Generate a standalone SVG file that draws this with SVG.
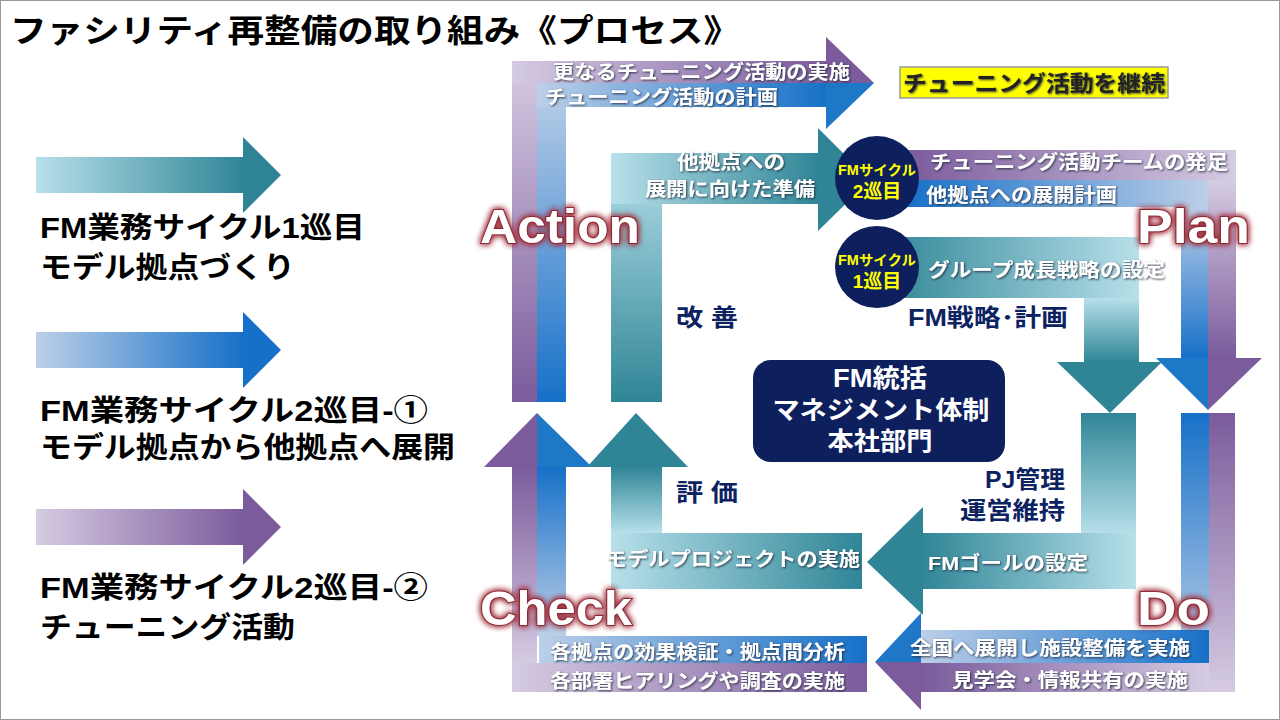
<svg xmlns="http://www.w3.org/2000/svg" width="1280" height="720" viewBox="0 0 1280 720">
<defs>
<linearGradient id="tR" x1="0" y1="0" x2="1" y2="0"><stop offset="0" stop-color="#b7e0ea"/><stop offset="1" stop-color="#2f8596"/></linearGradient>
<linearGradient id="tL" x1="1" y1="0" x2="0" y2="0"><stop offset="0" stop-color="#b7e0ea"/><stop offset="1" stop-color="#2f8596"/></linearGradient>
<linearGradient id="tD" x1="0" y1="0" x2="0" y2="1"><stop offset="0" stop-color="#b7e0ea"/><stop offset="1" stop-color="#2f8596"/></linearGradient>
<linearGradient id="tU" x1="0" y1="1" x2="0" y2="0"><stop offset="0" stop-color="#b7e0ea"/><stop offset="1" stop-color="#2f8596"/></linearGradient>
<linearGradient id="bR" x1="0" y1="0" x2="1" y2="0"><stop offset="0" stop-color="#bccfe8"/><stop offset="1" stop-color="#1670c8"/></linearGradient>
<linearGradient id="bL" x1="1" y1="0" x2="0" y2="0"><stop offset="0" stop-color="#bccfe8"/><stop offset="1" stop-color="#1670c8"/></linearGradient>
<linearGradient id="bD" x1="0" y1="0" x2="0" y2="1"><stop offset="0" stop-color="#bccfe8"/><stop offset="1" stop-color="#1670c8"/></linearGradient>
<linearGradient id="bU" x1="0" y1="1" x2="0" y2="0"><stop offset="0" stop-color="#bccfe8"/><stop offset="1" stop-color="#1670c8"/></linearGradient>
<linearGradient id="pR" x1="0" y1="0" x2="1" y2="0"><stop offset="0" stop-color="#d5cbe2"/><stop offset="1" stop-color="#7b5b9c"/></linearGradient>
<linearGradient id="pL" x1="1" y1="0" x2="0" y2="0"><stop offset="0" stop-color="#d5cbe2"/><stop offset="1" stop-color="#7b5b9c"/></linearGradient>
<linearGradient id="pD" x1="0" y1="0" x2="0" y2="1"><stop offset="0" stop-color="#d5cbe2"/><stop offset="1" stop-color="#7b5b9c"/></linearGradient>
<linearGradient id="pU" x1="0" y1="1" x2="0" y2="0"><stop offset="0" stop-color="#d5cbe2"/><stop offset="1" stop-color="#7b5b9c"/></linearGradient>
<filter id="sh" x="-5%" y="-20%" width="110%" height="140%"><feDropShadow dx="1" dy="1" stdDeviation="0.8" flood-color="#1a2a3a" flood-opacity="0.9"/></filter>
<filter id="glow" x="-10%" y="-20%" width="120%" height="140%"><feGaussianBlur in="SourceAlpha" stdDeviation="3" result="b"/><feFlood flood-color="#a0303c"/><feComposite in2="b" operator="in" result="g"/><feMerge><feMergeNode in="g"/><feMergeNode in="g"/><feMergeNode in="SourceGraphic"/></feMerge></filter>
</defs>
<style>
text{font-family:"Liberation Sans","Noto Sans CJK JP",sans-serif;font-weight:bold}
.w{fill:#fff;font-size:19px;filter:url(#sh)}
.n{fill:#0d2260;font-size:24px}
.big{fill:#fff;font-size:48px;stroke:#8b2a36;stroke-width:2;paint-order:stroke;filter:url(#glow)}
.lg{fill:#000;font-size:29px}
.cy{fill:#ffff00;text-anchor:middle}
.h{fill:#fff;font-size:25px;text-anchor:middle}
</style>
<rect x="0.5" y="0.5" width="1279" height="719" fill="#fff" stroke="#999"/>
<text x="10" y="42" style="font-size:32px;fill:#000" textLength="730" lengthAdjust="spacingAndGlyphs">ファシリティ再整備の取り組み《プロセス》</text>

<g id="legend">
<rect x="36" y="157" width="208" height="36" fill="url(#tR)"/><polygon points="243,137 281,175 243,213" fill="#2f8596"/>
<rect x="36" y="332" width="208" height="36" fill="url(#bR)"/><polygon points="243,312 281,350 243,388" fill="#1670c8"/>
<rect x="36" y="509" width="208" height="36" fill="url(#pR)"/><polygon points="243,489 281,527 243,565" fill="#7b5b9c"/>
<text class="lg" x="40" y="238" textLength="325" lengthAdjust="spacingAndGlyphs">FM業務サイクル1巡目</text>
<text class="lg" x="40" y="278" textLength="255" lengthAdjust="spacingAndGlyphs">モデル拠点づくり</text>
<text class="lg" x="40" y="421" textLength="388" lengthAdjust="spacingAndGlyphs">FM業務サイクル2巡目-①</text>
<text class="lg" x="40" y="458" textLength="415" lengthAdjust="spacingAndGlyphs">モデル拠点から他拠点へ展開</text>
<text class="lg" x="40" y="598" textLength="388" lengthAdjust="spacingAndGlyphs">FM業務サイクル2巡目-②</text>
<text class="lg" x="40" y="638" textLength="255" lengthAdjust="spacingAndGlyphs">チューニング活動</text>
</g>

<g id="connectors">
<rect x="512" y="61" width="25" height="341" fill="url(#pD)"/>
<rect x="537" y="83" width="29" height="319" fill="url(#bD)"/>
<rect x="512" y="61" width="316" height="22" fill="url(#pR)"/>
<rect x="537" y="83" width="291" height="24" fill="url(#bR)"/>
<polygon points="826,37 874,83 826,83" fill="#7b5b9c"/>
<polygon points="826,83 874,83 826,129" fill="#1f77c8"/>
<rect x="611" y="153" width="51" height="249" fill="url(#tD)"/>
<rect x="611" y="153" width="208" height="51" fill="url(#tR)"/>
<polygon points="818,128 870,180 818,231" fill="#2f8596"/>
<rect x="905" y="150" width="331" height="30" fill="url(#pL)"/>
<rect x="905" y="180" width="303" height="27" fill="url(#bL)"/>
<rect x="1208" y="180" width="28" height="178" fill="url(#pD)"/>
<rect x="1181" y="207" width="27" height="151" fill="url(#bD)"/>
<polygon points="1156,358 1208,358 1208,410" fill="#1f77c8"/>
<polygon points="1208,358 1262,358 1208,410" fill="#7b5b9c"/>
<rect x="880" y="237" width="259" height="61" fill="url(#tL)"/>
<rect x="1084" y="298" width="55" height="64" fill="url(#tD)"/>
<polygon points="1057,362 1162,362 1110,413" fill="#2f8596"/>
<rect x="1181" y="413" width="28" height="250" fill="url(#bU)"/>
<rect x="1209" y="413" width="26" height="279" fill="url(#pU)"/>
<rect x="921" y="630" width="288" height="33" fill="url(#bR)"/>
<rect x="921" y="663" width="288" height="29" fill="url(#pL)"/>
<polygon points="921,613 875,662 921,662" fill="#1f77c8"/>
<polygon points="921,662 875,662 921,710" fill="#7b5b9c"/>
<rect x="1081" y="413" width="55" height="122" fill="url(#tU)"/>
<rect x="921" y="533" width="215" height="56" fill="url(#tL)"/>
<polygon points="923,507 867,562 923,615" fill="#2f8596"/>
<rect x="539" y="636" width="328" height="27" fill="url(#bR)"/>
<rect x="512" y="663" width="355" height="29" fill="url(#pR)"/>
<rect x="512" y="467" width="25" height="196" fill="url(#pU)"/>
<rect x="537" y="467" width="29" height="169" fill="url(#bU)"/>
<polygon points="484,467 537,413 537,467" fill="#7b5b9c"/>
<polygon points="537,413 592,467 537,467" fill="#1f77c8"/>
<rect x="611" y="533" width="251" height="56" fill="url(#tR)"/>
<rect x="611" y="467" width="51" height="66" fill="url(#tU)"/>
<polygon points="587,467 636,413 688,467" fill="#2f8596"/>
</g>

<g id="labels">
<text class="w" x="553" y="79" textLength="297" lengthAdjust="spacingAndGlyphs">更なるチューニング活動の実施</text>
<text class="w" x="545" y="104" textLength="233" lengthAdjust="spacingAndGlyphs">チューニング活動の計画</text>
<text class="w" x="677" y="169" textLength="108" lengthAdjust="spacingAndGlyphs">他拠点への</text>
<text class="w" x="645" y="196" textLength="170" lengthAdjust="spacingAndGlyphs">展開に向けた準備</text>
<text class="w" x="930" y="169" textLength="298" lengthAdjust="spacingAndGlyphs">チューニング活動チームの発足</text>
<text class="w" x="926" y="202" textLength="191" lengthAdjust="spacingAndGlyphs">他拠点への展開計画</text>
<text class="w" x="928" y="277" textLength="237" lengthAdjust="spacingAndGlyphs">グループ成長戦略の設定</text>
<text class="w" x="606" y="566" textLength="254" lengthAdjust="spacingAndGlyphs">モデルプロジェクトの実施</text>
<text class="w" x="928" y="570" textLength="160" lengthAdjust="spacingAndGlyphs">FMゴールの設定</text>
<text class="w" x="550" y="659" textLength="295" lengthAdjust="spacingAndGlyphs">各拠点の効果検証・拠点間分析</text>
<text class="w" x="550" y="688" textLength="295" lengthAdjust="spacingAndGlyphs">各部署ヒアリングや調査の実施</text>
<text class="w" x="910" y="655" textLength="280" lengthAdjust="spacingAndGlyphs">全国へ展開し施設整備を実施</text>
<text class="w" x="952" y="687" textLength="236" lengthAdjust="spacingAndGlyphs">見学会・情報共有の実施</text>
<text class="n" x="676" y="326" textLength="62" lengthAdjust="spacingAndGlyphs">改 善</text>
<text class="n" x="908" y="326" textLength="160" lengthAdjust="spacingAndGlyphs">FM戦略･計画</text>
<text class="n" x="676" y="501" textLength="62" lengthAdjust="spacingAndGlyphs">評 価</text>
<text class="n" x="985" y="488" textLength="80" lengthAdjust="spacingAndGlyphs">PJ管理</text>
<text class="n" x="960" y="519" textLength="105" lengthAdjust="spacingAndGlyphs">運営維持</text>
<text class="big" x="480" y="243" textLength="160" lengthAdjust="spacingAndGlyphs">Action</text>
<text class="big" x="1137" y="243" textLength="113" lengthAdjust="spacingAndGlyphs">Plan</text>
<text class="big" x="480" y="625" textLength="152" lengthAdjust="spacingAndGlyphs">Check</text>
<text class="big" x="1137" y="625" textLength="73" lengthAdjust="spacingAndGlyphs">Do</text>
</g>

<g id="cycle2">
<ellipse cx="877" cy="178" rx="42" ry="42" fill="#0d1f5c"/>
<text class="cy" x="877" y="175" style="font-size:14px" textLength="78" lengthAdjust="spacingAndGlyphs">FMサイクル</text>
<text class="cy" x="877" y="198" style="font-size:19px">2巡目</text>
</g>
<g id="cycle1">
<ellipse cx="877" cy="267" rx="42" ry="41" fill="#0d1f5c"/>
<text class="cy" x="877" y="265" style="font-size:14px" textLength="78" lengthAdjust="spacingAndGlyphs">FMサイクル</text>
<text class="cy" x="877" y="288" style="font-size:19px">1巡目</text>
</g>
<g id="continue">
<rect x="900" y="67" width="268" height="31" fill="#ffff00" stroke="#999" stroke-width="1.5"/>
<text x="903" y="91" style="font-size:22px;fill:#222;filter:url(#sh)" textLength="262" lengthAdjust="spacingAndGlyphs">チューニング活動を継続</text>
</g>
<g id="hq">
<rect x="753" y="360" width="252" height="102" rx="18" fill="#0d1f5c"/>
<text class="h" x="880" y="387" textLength="94" lengthAdjust="spacingAndGlyphs">FM統括</text>
<text class="h" x="881" y="419" textLength="217" lengthAdjust="spacingAndGlyphs">マネジメント体制</text>
<text class="h" x="880" y="450" textLength="105" lengthAdjust="spacingAndGlyphs">本社部門</text>
</g>
</svg>
